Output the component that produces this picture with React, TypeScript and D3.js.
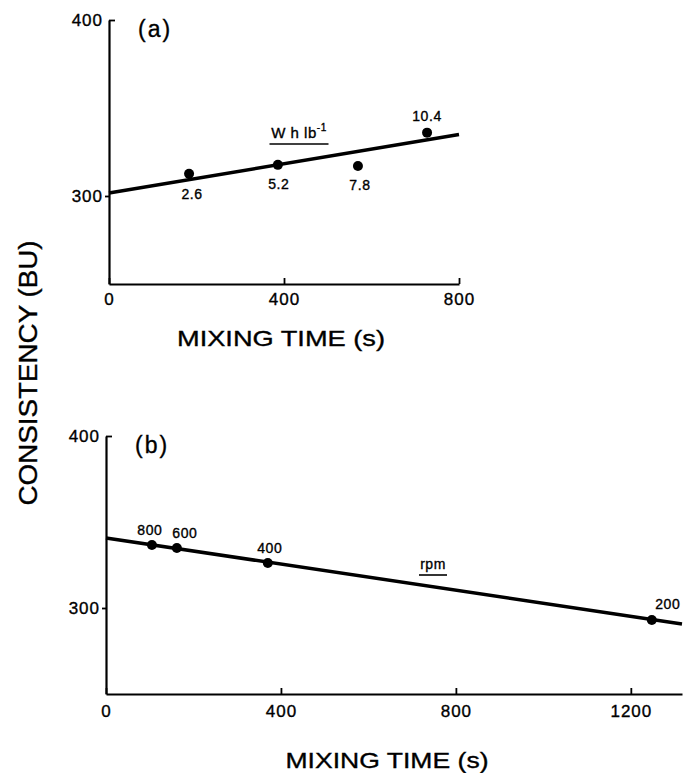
import React, { useEffect, useRef } from 'react';
import * as d3 from 'd3';

// panel (a): specific work input (W h lb-1)
const workLabels = ['2.6', '5.2', '7.8', '10.4'];
const workTimes = [183, 386, 569, 727];
const workConsistency = [312.6, 317.7, 317, 336];
const workFit = [
  { t: 0, c: 301.7 },
  { t: 800, c: 334.9 },
];

// panel (b): mixer speed (rpm)
const rpmLabels = ['800', '600', '400', '200'];
const rpmTimes = [105, 162, 370, 1248];
const rpmConsistency = [336.6, 334.9, 326.2, 293];
const rpmFit = [
  { t: 0, c: 340.7 },
  { t: 1317, c: 290.7 },
];

const xTicksA = [0, 400, 800];
const xTicksB = [0, 400, 800, 1200];
const yTicks = [300, 400];

const FONT = "'Liberation Sans', Arial, sans-serif";

const App = () => {
  const ref = useRef<SVGSVGElement>(null);

  useEffect(() => {
    const svg = d3.select(ref.current);
    svg.selectAll('*').remove();

    const styleText = (sel: any, size: number, spacing = 0) =>
      sel
        .style('font-family', FONT)
        .style('font-size', `${size}px`)
        .style('letter-spacing', `${spacing}px`)
        .attr('fill', '#000')
        .attr('stroke', '#000')
        .attr('stroke-width', 0.35);

    const drawPanel = (opts: any) => {
      const { x, y, ticksX, name, labels, times, vals, fit, labelPos, unit } = opts;
      const g = svg.append('g');

      // x axis
      const xAxis = g
        .append('g')
        .attr('transform', `translate(0,${y.range()[0]})`)
        .call(
          d3
            .axisBottom(x)
            .tickValues(ticksX)
            .tickSizeInner(-6)
            .tickSizeOuter(0)
            .tickPadding(opts.xPad)
            .tickFormat(d3.format('d'))
        );
      xAxis.select('.domain').attr('stroke-width', 2.2);
      xAxis.selectAll('.tick line').attr('stroke-width', 1.8);
      styleText(xAxis.selectAll('.tick text'), 17, 1);

      // y axis
      const yAxis = g
        .append('g')
        .attr('transform', `translate(${x.range()[0]},0)`)
        .call(d3.axisLeft(y).tickValues(yTicks).tickSizeInner(4).tickSizeOuter(0).tickPadding(2));
      yAxis.select('.domain').attr('stroke-width', 2.2);
      yAxis.selectAll('.tick line').attr('stroke-width', 1.8).attr('x2', (d: any) => (d === 400 ? 6 : -4));
      styleText(yAxis.selectAll('.tick text'), 17, 1);

      // panel name
      styleText(
        g.append('text').attr('x', x.range()[0] + 29).attr('y', y(400) + 17).text(name),
        23,
        2
      );

      // fitted line
      const line = d3.line<any>().x(d => x(d.t)).y(d => y(d.c));
      g.append('path').datum(fit).attr('d', line).attr('fill', 'none').attr('stroke', '#000').attr('stroke-width', 3.5);

      // points
      g.selectAll('.pt')
        .data(times)
        .enter()
        .append('circle')
        .attr('cx', (d: number) => x(d))
        .attr('cy', (d: number, i: number) => y(vals[i]))
        .attr('r', 5)
        .attr('fill', '#000');

      styleText(
        g
          .selectAll('.lbl')
          .data(labels)
          .enter()
          .append('text')
          .attr('x', (d: string, i: number) => x(times[i]) + labelPos[i][0])
          .attr('y', (d: string, i: number) => y(vals[i]) + labelPos[i][1])
          .text((d: string) => d)
          .style('text-anchor', 'middle'),
        14,
        0.6
      );

      // unit label, underlined
      const u = styleText(
        g.append('text').attr('x', unit.x).attr('y', unit.y).style('text-anchor', 'middle'),
        unit.size,
        0.5
      );
      u.append('tspan').text(unit.text);
      if (unit.sup) {
        u.append('tspan').text(unit.sup).attr('dy', -7).style('font-size', '10px');
      }
      g.append('line')
        .attr('x1', unit.x - unit.w / 2)
        .attr('x2', unit.x + unit.w / 2)
        .attr('y1', unit.y + 6)
        .attr('y2', unit.y + 6)
        .attr('stroke', '#000')
        .attr('stroke-width', 1.6);

      // x title
      styleText(
        g
          .append('text')
          .attr('x', opts.titleX)
          .attr('y', opts.titleY)
          .attr('textLength', opts.titleW)
          .attr('lengthAdjust', 'spacingAndGlyphs')
          .text(opts.title)
          .style('text-anchor', 'middle'),
        22
      );
    };

    const xA = d3.scaleLinear().domain([0, 800]).range([109, 459]);
    const yA = d3.scaleLinear().domain([250, 400]).range([284, 20]);
    drawPanel({
      x: xA,
      y: yA,
      ticksX: xTicksA,
      xPad: 9,
      name: '(a)',
      labels: workLabels,
      times: workTimes,
      vals: workConsistency,
      fit: workFit,
      labelPos: [[3, 25], [1, 24], [2, 24], [0, -12]],
      unit: { x: 299, y: 138, text: 'W  h  lb', sup: '-1', w: 59, size: 15 },
      title: 'MIXING  TIME (s)',
      titleX: 281,
      titleY: 346,
      titleW: 208,
    });

    const xB = d3.scaleLinear().domain([0, 1317]).range([106, 682]);
    const yB = d3.scaleLinear().domain([250, 400]).range([694, 436]);
    drawPanel({
      x: xB,
      y: yB,
      ticksX: xTicksB,
      xPad: 11,
      name: '(b)',
      labels: rpmLabels,
      times: rpmTimes,
      vals: rpmConsistency,
      fit: rpmFit,
      labelPos: [[-2, -10], [8, -10], [2, -10], [16, -11]],
      unit: { x: 433, y: 569, text: 'rpm', w: 28, size: 14 },
      title: 'MIXING  TIME (s)',
      titleX: 387,
      titleY: 768,
      titleW: 203,
    });

    // shared y title
    styleText(
      svg
        .append('text')
        .attr('transform', 'translate(37,373) rotate(-90)')
        .attr('textLength', 265)
        .attr('lengthAdjust', 'spacingAndGlyphs')
        .text('CONSISTENCY (BU)')
        .style('text-anchor', 'middle'),
      25
    );
  }, []);

  return (
    <svg
      ref={ref}
      width={685}
      height={773}
      style={{ position: 'absolute', left: 0, top: 0, background: '#fff' }}
    ></svg>
  );
};

export default App;
